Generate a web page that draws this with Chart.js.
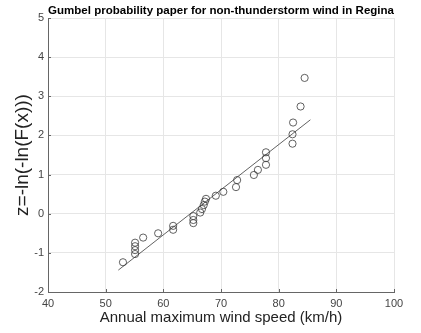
<!DOCTYPE html>
<html>
<head>
<meta charset="utf-8">
<script src="https://cdn.jsdelivr.net/npm/chart.js@4/dist/chart.umd.min.js"></script>
<style>
body{ margin:0; background:#fff; }
</style>
</head>
<body>
<canvas id="gumbelChart" width="421" height="333"></canvas>
<script>

// observed annual maxima (km/h) and reduced variate z
const windSpeed = [53.0, 55.1, 55.1, 55.1, 55.1, 56.5, 59.1, 61.7, 61.7, 65.2, 65.2, 65.2, 66.4, 66.7, 67.0, 67.2, 67.4, 69.1, 70.4, 72.6, 72.8, 75.7, 76.4, 77.8, 77.8, 77.8, 82.4, 82.4, 82.5, 83.8, 84.5];
const zValue = [-1.24, -1.03, -0.93, -0.83, -0.74, -0.61, -0.50, -0.41, -0.31, -0.24, -0.16, -0.06, 0.03, 0.12, 0.22, 0.31, 0.38, 0.46, 0.56, 0.68, 0.86, 0.99, 1.12, 1.25, 1.42, 1.57, 1.79, 2.03, 2.33, 2.74, 3.47];

// fitted line end points
const fitSpeed = [52.2, 85.5];
const fitZ = [-1.44, 2.40];

const xTicks = [40, 50, 60, 70, 80, 90, 100];
const yTicks = [-2, -1, 0, 1, 2, 3, 4, 5];

const font = "'Liberation Sans', Arial, sans-serif";

// matlab style ticks pointing into the plot
const innerTicks = {
    id: "innerTicks",
    afterDraw(chart) {
        const ctx = chart.ctx;
        const area = chart.chartArea;
        const x = chart.scales.x;
        const y = chart.scales.y;
        ctx.save();
        ctx.strokeStyle = "#666";
        ctx.lineWidth = 1;
        ctx.beginPath();
        xTicks.forEach(v => {
            const px = Math.round(x.getPixelForValue(v)) + 0.5;
            ctx.moveTo(px, area.bottom);
            ctx.lineTo(px, area.bottom - 3);
        });
        yTicks.forEach(v => {
            const py = Math.round(y.getPixelForValue(v)) + 0.5;
            ctx.moveTo(area.left, py);
            ctx.lineTo(area.left + 3, py);
        });
        ctx.stroke();
        ctx.restore();
    }
};

new Chart(document.getElementById("gumbelChart"), {
    type: "scatter",
    data: {
        datasets: [
            {
                label: "data",
                data: windSpeed.map((v, i) => ({ x: v, y: zValue[i] })),
                backgroundColor: "rgba(0,0,0,0)",
                borderColor: "#3a3a3a",
                borderWidth: 0.8,
                pointRadius: 3.6,
                pointHoverRadius: 3.6
            },
            {
                type: "line",
                label: "fit",
                data: fitSpeed.map((v, i) => ({ x: v, y: fitZ[i] })),
                borderColor: "#3a3a3a",
                borderWidth: 0.8,
                pointRadius: 0,
                fill: false
            }
        ]
    },
    options: {
        responsive: false,
        animation: false,
        layout: {
            padding: { left: 0, right: 27, top: 0, bottom: 0 }
        },
        plugins: {
            legend: { display: false },
            tooltip: { enabled: false },
            title: {
                display: true,
                fullSize: false,
                text: "Gumbel probability paper for non-thunderstorm wind in Regina",
                color: "#000",
                font: { family: font, size: 11.7, weight: "bold" },
                padding: { top: 4, bottom: 0 }
            }
        },
        scales: {
            x: {
                type: "linear",
                min: 40,
                max: 100,
                afterBuildTicks: scale => { scale.ticks = xTicks.map(v => ({ value: v })); },
                afterFit: scale => { scale.height = 41; },
                grid: { color: "#e6e6e6", drawTicks: false },
                border: { color: "#666", width: 1 },
                ticks: { color: "#444", padding: 5, font: { family: font, size: 11 } },
                title: {
                    display: true,
                    text: "Annual maximum wind speed (km/h)",
                    color: "#222",
                    font: { family: font, size: 15 },
                    padding: { top: 0, bottom: 6 }
                }
            },
            y: {
                type: "linear",
                min: -2,
                max: 5,
                afterBuildTicks: scale => { scale.ticks = yTicks.map(v => ({ value: v })); },
                afterFit: scale => { scale.width = 48; },
                grid: { color: "#e6e6e6", drawTicks: false },
                border: { color: "#666", width: 1 },
                ticks: { color: "#444", padding: 4, font: { family: font, size: 11 } },
                title: {
                    display: true,
                    text: "z=-ln(-ln(F(x)))",
                    color: "#222",
                    font: { family: font, size: 19 },
                    padding: { top: 11.5, bottom: 0 }
                }
            }
        }
    },
    plugins: [innerTicks]
});

</script>
</body>
</html>
